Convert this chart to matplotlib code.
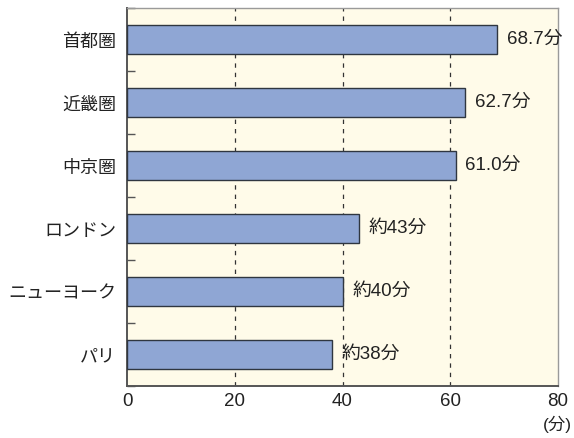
import numpy as np
import matplotlib.pyplot as plt
from matplotlib.ticker import FixedLocator

plt.rcParams['font.family'] = ['Liberation Sans', 'Noto Sans CJK JP']

# 通勤時間の比較
regions = ['首都圏', '近畿圏', '中京圏', 'ロンドン', 'ニューヨーク', 'パリ']
minutes = [68.7, 62.7, 61.0, 43, 40, 38]
value_labels = ['68.7分', '62.7分', '61.0分', '約43分', '約40分', '約38分']
x_ticks = [0, 20, 40, 60, 80]

fig = plt.figure(figsize=(5.74, 4.38), dpi=100)
ax = fig.add_axes([0.2213, 0.1187, 0.7509, 0.863])
ax.set_facecolor('#fffbe9')

y = np.arange(len(regions))
ax.barh(y, minutes, height=0.45, color='#8fa6d4', edgecolor='#2f3640',
        linewidth=1.0, zorder=3)

for yi, v, lab in zip(y, minutes, value_labels):
    ax.text(v + 1.8, yi, lab, va='center', ha='left', fontsize=13.5,
            color='#222222', zorder=4)

ax.set_xlim(0, 80)
ax.set_ylim(len(regions) - 0.5, -0.5)

for gx in [20, 40, 60]:
    ax.axvline(gx, color='#333333', linewidth=0.9, linestyle=(0, (3.5, 4)), zorder=1)

ax.set_xticks(x_ticks)
ax.set_xticklabels([str(t) for t in x_ticks], fontsize=13.5, color='#222222')
ax.tick_params(axis='x', length=0, pad=5)

ax.set_yticks(y)
ax.set_yticklabels(regions, fontsize=13, color='#222222',
                   family=['Noto Sans CJK JP'])
ax.tick_params(axis='y', which='major', length=0, pad=8)
ax.yaxis.set_minor_locator(FixedLocator(np.arange(-0.5, len(regions), 1.0)))
ax.tick_params(axis='y', which='minor', direction='in', length=6,
               width=1.0, color='#555555')

for side in ['left', 'bottom']:
    ax.spines[side].set_color('#555555')
    ax.spines[side].set_linewidth(1.4)
for side in ['top', 'right']:
    ax.spines[side].set_color('#9a9a9a')
    ax.spines[side].set_linewidth(1.0)

fig.text(0.997, 0.030, '(分)', ha='right', va='center', fontsize=12.5,
         color='#222222')

fig.savefig('out.png', dpi=100)
